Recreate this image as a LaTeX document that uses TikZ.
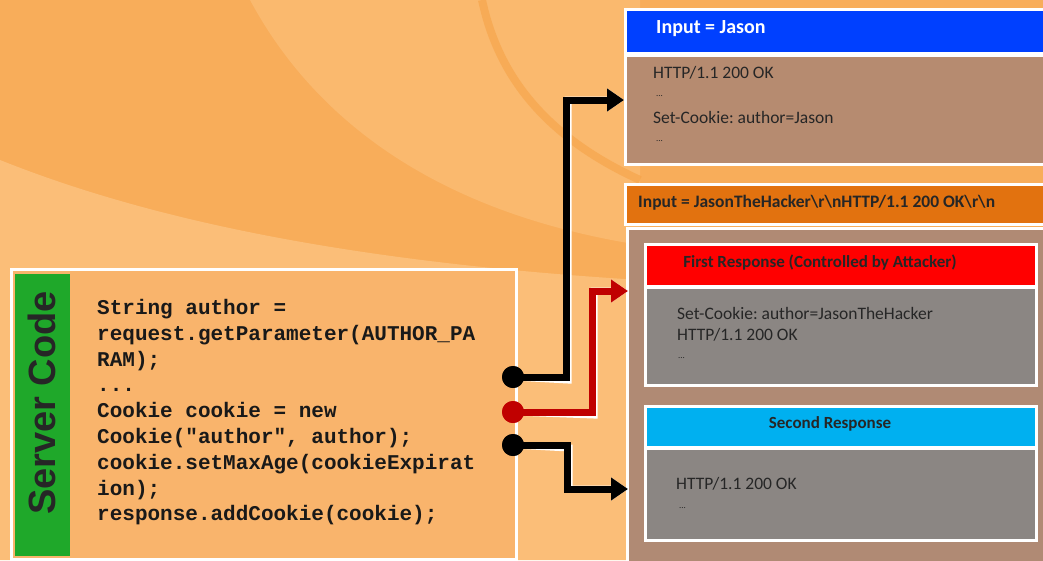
\documentclass[tikz,border=0pt]{standalone}
\usepackage{fontspec}
\setmainfont{Carlito}
\setsansfont{Liberation Sans}
\setmonofont{Liberation Mono}
\usetikzlibrary{arrows.meta}
\definecolor{bgmid}{HTML}{F8AD5A}
\definecolor{bgdark}{HTML}{F6A246}
\definecolor{bglight}{HTML}{FAB96E}
\definecolor{bglight2}{HTML}{FBBE78}
\definecolor{srvorange}{HTML}{F9B46C}
\definecolor{srvgreen}{HTML}{1FA82A}
\definecolor{hdrblue}{HTML}{0040FF}
\definecolor{bodybrown}{HTML}{B68B70}
\definecolor{hdrorange}{HTML}{E2720F}
\definecolor{contbrown}{HTML}{B08A74}
\definecolor{hdrred}{HTML}{FF0000}
\definecolor{bodygrey}{HTML}{8B8683}
\definecolor{hdrcyan}{HTML}{00B0F0}
\definecolor{arrred}{HTML}{C00000}
\definecolor{txtdark}{HTML}{262626}
\tikzset{
  panel/.style={draw=white, line width=3pt, inner sep=0pt, anchor=north west},
  bodytxt/.style={anchor=west, inner sep=0pt, text=txtdark, font=\fontsize{17.5}{20}\selectfont},
  hdrtxt/.style={inner sep=0pt, font=\bfseries\fontsize{17}{20}\selectfont, text=txtdark},
  dot/.style={circle, inner sep=0pt, minimum size=22pt},
  conn/.style={line width=7pt, -{Triangle[length=17pt,width=22pt]}},
  connshadow/.style={line width=7pt, white, -{Triangle[length=17pt,width=22pt]}, shift={(2,3)}},
}
\begin{document}
\begin{tikzpicture}[x=1pt,y=-1pt]
\useasboundingbox (0,0) rectangle (1043,560);
% background
\fill[bgmid] (0,0) rectangle (1043,560);
\fill[bglight] (250,0) .. controls (320,130) and (450,215) .. (640,245) -- (640,0) -- cycle;
\fill[bglight2] (0,160) .. controls (150,220) and (350,262) .. (640,280) -- (640,560) -- (0,560) -- cycle;
\draw[bgdark, line width=8pt, opacity=0.6] (482,0) .. controls (495,60) and (530,130) .. (640,180);

% server code box
\node[panel, fill=srvorange, minimum width=505, minimum height=290] (srv) at (10,268) {};
\node[anchor=north west, fill=srvgreen, inner sep=0pt, minimum width=55, minimum height=282] (green) at (15,274) {};
\node[rotate=90, font=\sffamily\bfseries\fontsize{38}{42}\selectfont, text=black!85] (srvlbl) at (42,403) {Server Code};
\node[anchor=north west, inner sep=0pt, align=left, text=black!90,
      font=\ttfamily\bfseries\fontsize{21}{25.8}\selectfont] (code) at (97,299)
{String author =\\
request.getParameter(AUTHOR\_PA\\
RAM);\\
...\\
Cookie cookie = new\\
Cookie("author", author);\\
cookie.setMaxAge(cookieExpirat\\
ion);\\
response.addCookie(cookie);};

% top response box
\node[panel, fill=hdrblue, minimum width=430, minimum height=44] (in1) at (624,8) {};
\node[panel, fill=bodybrown, minimum width=430, minimum height=109] (resp1) at (624,54) {};
\node[anchor=west, inner sep=0pt, text=white, font=\bfseries\fontsize{20}{23}\selectfont] (in1t) at (656,29) {Input = Jason};
\node[bodytxt] (r1a) at (653,73) {HTTP/1.1 200 OK};
\node[bodytxt] (r1b) at (656,96) {\fontsize{9}{10}\selectfont...};
\node[bodytxt] (r1c) at (653,117) {Set-Cookie:\ author=Jason};
\node[bodytxt] (r1d) at (656,141) {\fontsize{9}{10}\selectfont...};

% second response group
\node[panel, fill=hdrorange, minimum width=430, minimum height=40] (in2) at (624,183) {};
\node[anchor=west, inner sep=0pt, text=txtdark, font=\bfseries\fontsize{17.5}{20}\selectfont] (in2t) at (638,203) {Input = JasonTheHacker\textbackslash r\textbackslash nHTTP/1.1 200 OK\textbackslash r\textbackslash n};
\node[panel, fill=contbrown, minimum width=430, minimum height=350] (cont) at (626,227) {};

\node[panel, fill=hdrred, minimum width=391, minimum height=42] (h1) at (644,243) {};
\node[panel, fill=bodygrey, minimum width=391, minimum height=98] (b1) at (644,286) {};
\node[hdrtxt] (h1t) at (820,263) {First Response (Controlled by Attacker)};
\node[bodytxt] (b1a) at (677,313) {Set-Cookie:\ author=JasonTheHacker};
\node[bodytxt] (b1b) at (677,335) {HTTP/1.1 200 OK};
\node[bodytxt] (b1c) at (678,358) {\fontsize{9}{10}\selectfont...};

\node[panel, fill=hdrcyan, minimum width=391, minimum height=41] (h2) at (644,405) {};
\node[panel, fill=bodygrey, minimum width=391, minimum height=92] (b2) at (644,447) {};
\node[hdrtxt] (h2t) at (830,424) {Second Response};
\node[bodytxt] (b2a) at (676,484) {HTTP/1.1 200 OK};
\node[bodytxt] (b2b) at (679,508) {\fontsize{9}{10}\selectfont...};

% connector end points
\coordinate (t1) at (624,100);
\coordinate (t2) at (628,291);
\coordinate (t3) at (628,489);

% dots
\node[dot, fill=black] (d1) at (513,377) {};
\node[dot, fill=arrred] (d2) at (513,412) {};
\node[dot, fill=black] (d3) at (513,445) {};

% connectors (white highlight then line)
\draw[connshadow] (d1.center) -- (566,377) |- (t1);
\draw[connshadow] (d2.center) -- (592,412) |- (t2);
\draw[connshadow] (d3.center) -- (567,445) |- (t3);
\draw[conn, black] (d1.center) -- (566,377) |- (t1);
\draw[conn, arrred] (d2.center) -- (592,412) |- (t2);
\draw[conn, black] (d3.center) -- (567,445) |- (t3);
\node[dot, fill=black] at (d1) {};
\node[dot, fill=arrred] at (d2) {};
\node[dot, fill=black] at (d3) {};
\end{tikzpicture}
\end{document}
